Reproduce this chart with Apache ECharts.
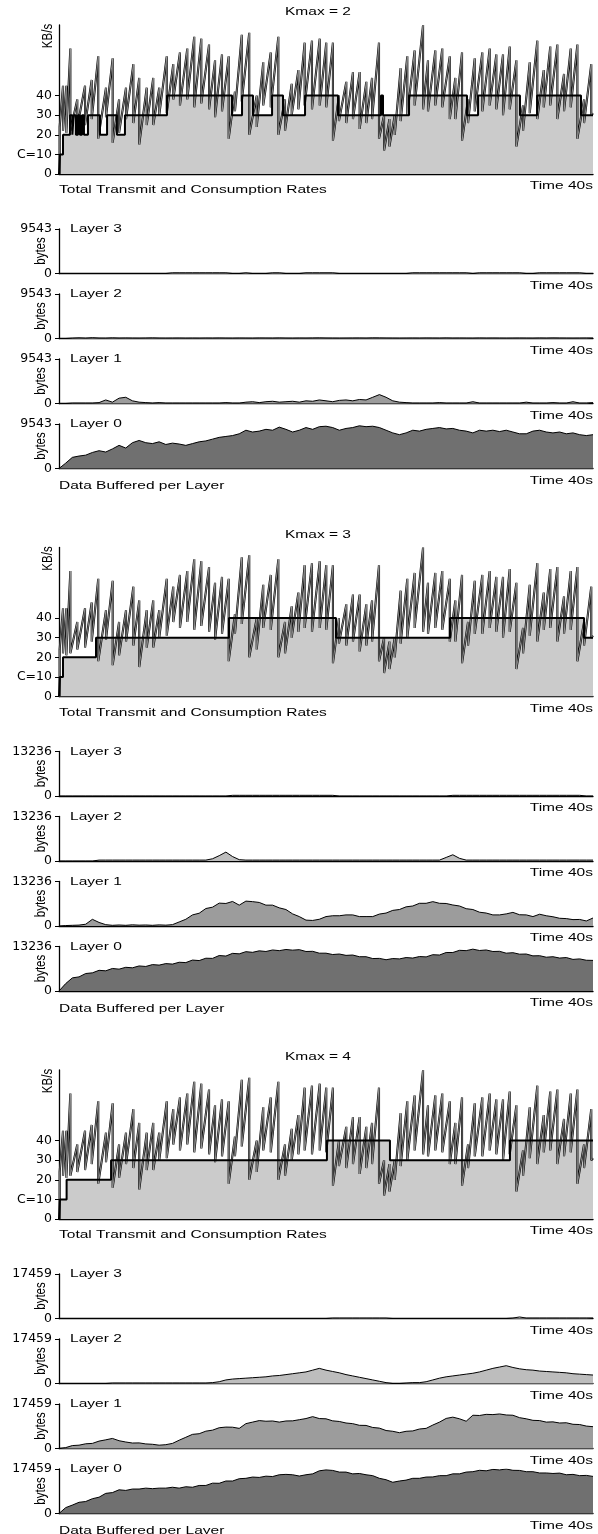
<!DOCTYPE html>
<html><head><meta charset="utf-8">
<script src="https://cdn.jsdelivr.net/npm/echarts@6/dist/echarts.min.js"></script>
<style>html,body{margin:0;padding:0;background:#fff}#c{width:598px;height:1534px}</style>
</head><body><div id="c"></div>
<script>
// ---------------- DATA ----------------
const timeMaxSec = 40;
const rateAxisMax = 76;               // KB/s at top of rate panel
const rateTickValues = [0, 10, 20, 30, 40];
const kmaxValues = [2, 3, 4];
const layerMaxBytes = [9543, 13236, 17459];
const layerNames = ['Layer 3', 'Layer 2', 'Layer 1', 'Layer 0'];

// Total transmit rate (sawtooth), shared by the three experiments
const transmitStart = [0.05, 24];
const dropTimes = [0.30,0.55,0.85,1.37,1.95,2.45,2.94,3.52,4.02,4.50,
  5.02,5.57,6.01,6.57,7.06,7.51,8.07,8.56,9.06,9.61,
  10.13,10.66,11.24,11.69,12.21,12.71,13.18,13.69,14.25,14.81,
  15.30,15.86,16.43,16.93,17.43,17.93,18.40,18.95,19.53,20.02,
  20.52,20.97,21.52,22.02,22.52,23.02,23.45,23.97,24.35,24.75,
  25.15,25.59,26.09,26.64,27.27,27.64,28.19,28.71,29.27,29.69,
  30.19,30.64,31.14,31.71,32.26,32.76,33.26,33.76,34.26,34.76,
  35.26,35.83,36.31,36.80,37.33,37.83,38.33,38.83,39.33,39.87];
const peakRates = [45,45,64,38,45,48,60,44,59,38,
  44,56,49,44,49,44,60,56,62,64,
  70,69,66,58,61,60,42,71,72,40,
  57,62,70,38,46,53,67,68,69,67,
  67,40,47,52,52,47,49,67,30,28,
  30,54,60,63,76,58,63,64,60,49,
  62,38,59,62,64,61,61,65,58,35,
  57,68,53,65,66,51,64,66,38,56];
const troughRates = [22,21,22,24,25,28,18,29,16,21,
  28,26,15,25,25,30,31,38,35,38,
  34,36,33,29,32,18,32,37,20,24,
  35,34,20,22,30,33,35,33,35,34,
  17,27,26,28,23,26,28,18,12,14,
  20,27,30,35,33,32,35,34,28,28,
  17,26,32,32,35,33,30,33,14,22,
  31,28,34,35,28,32,34,18,26,30];
const transmitEnd = [40, 31];

// Consumption rate steps (time of change, new level)
const stepTimesK2 = [0.07,0.3,0.82,1.0,1.1,1.27,1.42,1.57,1.72,1.87,2.17,3.07,3.6,4.34,4.94,8.09,12.96,13.71,14.53,15.96,16.78,18.43,20.9,24.12,24.27,26.22,30.56,31.39,34.53,35.81,39.1];
const stepLevelsK2 = [10,20,30,20,30,20,30,20,30,20,30,20,30,20,30,40,30,40,30,40,30,40,30,40,30,40,30,40,30,40,30];
const stepTimesK3 = [0.07,0.3,2.77,12.73,20.75,29.29,39.33];
const stepLevelsK3 = [10,20,30,40,30,40,30];
const stepTimesK4 = [0.07,0.57,3.9,20.07,24.79,33.78];
const stepLevelsK4 = [10,20,30,40,30,40];

// Data buffered per layer (bytes), sampled every 0.5 s from 0 to 40 s
const bufferSampleSec = 0.5;
const bufK2L3 = [0,0,0,0,0,0,0,0,0,0,0,0,0,0,0,0,0,150,150,150,150,150,150,150,150,150,0,0,150,0,0,0,150,150,0,0,0,150,150,150,150,150,0,0,0,0,0,0,0,0,0,0,0,150,150,150,150,150,150,150,150,150,0,150,150,150,150,150,150,150,0,0,150,150,150,150,150,150,150,0,0];
const bufK2L2 = [0,0,90,150,90,180,100,90,150,100,120,100,90,110,140,100,90,100,110,90,100,90,110,100,120,100,90,110,100,90,120,110,100,130,100,90,110,100,120,140,110,100,90,100,110,120,100,140,130,110,100,90,100,110,100,120,110,100,130,100,110,100,90,120,100,110,100,90,100,110,100,90,120,100,130,110,100,90,100,110,100];
const bufK2L1 = [0,0,95,95,95,95,191,763,286,1145,1336,573,286,191,95,191,95,95,95,95,95,95,95,95,95,191,95,95,286,382,191,382,477,286,382,477,286,573,477,763,573,382,668,763,573,859,763,1336,1909,1336,573,286,191,95,95,95,95,191,95,95,95,95,382,95,95,95,95,95,95,95,286,95,95,95,191,95,95,382,95,95,191];
const bufK2L0 = [0,1145,2386,2672,2863,3435,3817,3531,4199,4962,4390,5535,6012,5535,5344,5726,5153,5440,5249,4962,5344,5726,5917,6298,6680,6871,7062,7444,8207,7825,8016,8398,8207,8875,8398,7825,8207,8780,8398,8970,9066,8780,8207,8589,8780,9161,8970,9066,8780,8207,7634,7253,7634,8207,8016,8398,8589,8780,8493,8589,8207,8016,7634,8207,8016,8207,7921,8207,7825,7444,7444,8016,8207,7825,7634,7825,7444,7634,7253,7062,7253];

const bufK3L3 = [0,0,0,0,0,0,0,0,0,0,0,0,0,0,0,0,0,0,0,0,0,0,0,0,0,0,200,200,200,200,200,200,200,200,200,200,200,200,200,200,200,200,0,0,0,0,0,0,0,0,0,0,0,0,0,0,0,0,0,200,200,200,200,200,200,200,200,200,200,200,200,200,200,200,200,200,200,200,200,0,0];
const bufK3L2 = [0,0,0,0,0,0,265,265,265,265,265,265,265,265,265,265,265,265,265,265,265,265,265,662,1588,2647,1324,397,265,265,265,265,265,265,265,265,265,265,265,265,265,265,265,265,265,265,265,265,265,265,265,265,265,265,265,265,265,265,1059,1853,794,265,265,265,265,265,265,265,265,265,265,265,265,265,265,265,265,265,265,265,265];
const bufK3L1 = [0,132,200,265,529,1985,1059,397,200,300,200,350,250,300,200,330,250,400,1200,2000,3300,3800,5200,5600,6800,6700,7300,6200,7400,7250,7000,6200,6200,5400,4900,3600,2800,1750,1650,2000,2800,3050,3050,3300,3300,2800,2800,2800,3550,3850,4650,4900,5700,5950,6750,6750,7250,6750,6700,6250,5950,5150,4900,4100,3850,3300,3300,3600,4050,3350,3300,2800,3500,3050,2750,2300,2200,1900,1950,1500,2382];
const bufK3L0 = [0,2200,3900,4200,5200,5400,6150,6000,6700,6500,7050,6900,7450,7300,7850,7700,8150,8000,8550,8450,9200,9050,9750,9700,10550,10400,11200,11050,11700,11500,11950,11750,12200,12000,12350,12150,12300,11750,11800,11250,11250,10850,11000,10600,10700,10200,10200,9650,9700,9300,9650,9550,9950,9800,10250,10150,10800,10700,11450,11450,12100,12000,12450,12050,12200,11750,11800,11250,11400,10950,11000,10450,10500,10050,10200,9800,9950,9400,9550,9150,9100];

const bufK4L3 = [0,0,0,0,0,0,0,0,0,0,0,0,0,0,0,0,0,0,0,0,0,0,0,0,0,0,0,0,0,0,0,0,0,0,0,0,0,0,0,0,0,175,175,175,175,175,175,175,175,175,0,0,0,0,0,0,0,0,0,0,0,0,0,0,0,0,0,0,175,600,175,175,175,175,175,175,175,175,175,175,175];
const bufK4L2 = [0,0,0,0,0,0,0,0,175,175,175,175,175,175,175,175,175,175,175,175,175,175,175,349,698,1397,1746,1920,2095,2270,2444,2619,2968,3143,3492,3841,4190,4539,5238,5936,5238,4714,4190,3492,2968,2444,1920,1397,873,349,0,0,175,349,349,698,1397,2095,2619,2968,3317,3666,4016,4539,5238,5936,6460,6984,6285,5761,5412,5238,4889,4714,4539,4365,4190,3841,3666,3492,3317];
const bufK4L1 = [0,349,1150,1300,1850,2000,2900,3400,3950,3050,2550,2150,2200,1800,1650,1300,1500,2000,3250,4400,5550,5800,6800,7200,8150,8400,8350,7900,9750,10350,10950,10700,10800,10350,10800,10850,11300,11750,12500,11750,11650,10850,10600,10000,9750,9100,9050,8250,8000,7050,6750,6200,6750,6900,7650,7900,9200,10350,11800,12300,11650,10700,13050,12950,13400,13300,13550,13150,13050,12100,11650,11050,10950,10350,10450,10000,10100,9500,9400,8800,8555];
const bufK4L0 = [0,2300,3300,4400,4700,5800,6400,7900,8200,9300,9050,9600,9600,9950,9750,9950,9950,10300,9950,10500,10300,11000,11000,11900,11850,12750,12750,13650,13800,14300,14150,14650,14500,15200,15350,15200,14700,15200,15550,16750,17100,16900,16250,16250,15550,15700,15200,14850,13800,13250,12250,12750,13100,13800,13800,14300,14350,14850,14850,15550,15550,16250,16400,16950,16750,17300,17100,17450,16950,16900,16400,16400,15900,15900,15700,15850,15200,15350,14850,14950,14550];

// ---------------- BUILD ----------------
const stepSets = [[stepTimesK2, stepLevelsK2], [stepTimesK3, stepLevelsK3], [stepTimesK4, stepLevelsK4]];
const bufferSets = [
  [bufK2L3, bufK2L2, bufK2L1, bufK2L0],
  [bufK3L3, bufK3L2, bufK3L1, bufK3L0],
  [bufK4L3, bufK4L2, bufK4L1, bufK4L0]];
const layerFill = ['#d2d2d2', '#bdbdbd', '#9c9c9c', '#707070'];

function transmitPoints() {
  const pts = [[transmitStart[0], 0], [transmitStart[0], transmitStart[1]]];
  for (let i = 0; i < dropTimes.length; i++) {
    pts.push([dropTimes[i], peakRates[i]]);
    pts.push([dropTimes[i], troughRates[i]]);
  }
  pts.push(transmitEnd);
  return pts;
}
function stepPoints(times, levels) {
  const pts = [[0, 0]];
  let prev = 0;
  for (let i = 0; i < times.length; i++) {
    pts.push([times[i], prev]);
    pts.push([times[i], levels[i]]);
    prev = levels[i];
  }
  pts.push([timeMaxSec, prev]);
  return pts;
}
function bufferPoints(arr) { return arr.map((v, i) => [i * bufferSampleSec, v]); }

const FIG_H = 522.5, LEFT = 59, RIGHT = 5;
const FONT = 'Liberation Sans', FS = 11.5, SX = 1.35;
const grids = [], xAxes = [], yAxes = [], series = [], graphics = [];

function txt(x, y, text, align, vAlign) {
  graphics.push({
    type: 'text', x: x, y: y, scaleX: SX, silent: true,
    style: { text: text, x: 0, y: 0, fontSize: FS, fontFamily: FONT, fill: '#000',
      align: align, verticalAlign: vAlign, textAlign: align, textVerticalAlign: vAlign }
  });
}
function vtxt(x, y, text) {
  graphics.push({
    type: 'text', x: x, y: y, rotation: Math.PI / 2, scaleY: SX, silent: true,
    style: { text: text, x: 0, y: 0, fontSize: FS, fontFamily: FONT, fill: '#000',
      align: 'center', verticalAlign: 'middle', textAlign: 'center', textVerticalAlign: 'middle' }
  });
}
const axisLineStyle = { color: '#000', width: 1.3 };
const labelStyle = { color: '#000', fontFamily: 'DejaVu Sans', fontSize: 12.5, margin: 7 };

const tx = transmitPoints();
for (let f = 0; f < 3; f++) {
  const o = f * FIG_H;
  // rate panel
  let g = grids.length;
  grids.push({ left: LEFT, right: RIGHT, top: o + 25, height: 149, containLabel: false, outerBoundsMode: 'none' });
  xAxes.push({ gridIndex: g, type: 'value', min: 0, max: timeMaxSec,
    axisLine: { show: true, lineStyle: axisLineStyle }, axisTick: { show: false },
    axisLabel: { show: false }, splitLine: { show: false } });
  yAxes.push({ gridIndex: g, type: 'value', min: 0, max: rateAxisMax, interval: 10,
    axisLine: { show: true, lineStyle: axisLineStyle },
    axisTick: { show: true, length: 4, customValues: rateTickValues, lineStyle: { color: '#000' } },
    axisLabel: Object.assign({ customValues: rateTickValues, formatter: v => v === 10 ? 'C=10' : String(v) }, labelStyle),
    splitLine: { show: false } });
  const steps = stepPoints(stepSets[f][0], stepSets[f][1]);
  series.push({ type: 'line', xAxisIndex: g, yAxisIndex: g, data: steps, symbol: 'none',
    lineStyle: { width: 0, opacity: 0 }, areaStyle: { color: '#cbcbcb', opacity: 1 }, z: 1 });
  series.push({ type: 'line', xAxisIndex: g, yAxisIndex: g, data: tx, symbol: 'none',
    lineStyle: { color: '#000', width: 2.1 }, z: 2 });
  series.push({ type: 'line', xAxisIndex: g, yAxisIndex: g, data: tx, symbol: 'none',
    lineStyle: { color: '#a8a8a8', width: 0.8 }, z: 3 });
  series.push({ type: 'line', xAxisIndex: g, yAxisIndex: g, data: steps, symbol: 'none',
    lineStyle: { color: '#000', width: 2 }, z: 4 });

  txt(318, o + 12, 'Kmax = ' + kmaxValues[f], 'center', 'middle');
  vtxt(48, o + 36, 'KB/s');
  txt(LEFT, o + 190, 'Total Transmit and Consumption Rates', 'left', 'middle');
  txt(593, o + 186, 'Time 40s', 'right', 'middle');

  // layer panels
  const M = layerMaxBytes[f];
  for (let i = 0; i < 4; i++) {
    const top = o + 229 + 65 * i;
    g = grids.length;
    grids.push({ left: LEFT, right: RIGHT, top: top, height: 44.5, containLabel: false, outerBoundsMode: 'none' });
    xAxes.push({ gridIndex: g, type: 'value', min: 0, max: timeMaxSec,
      axisLine: { show: true, lineStyle: axisLineStyle }, axisTick: { show: false },
      axisLabel: { show: false }, splitLine: { show: false } });
    yAxes.push({ gridIndex: g, type: 'value', min: 0, max: M, interval: M,
      axisLine: { show: true, lineStyle: axisLineStyle },
      axisTick: { show: true, length: 4, customValues: [0, M], lineStyle: { color: '#000' } },
      axisLabel: Object.assign({ customValues: [0, M], formatter: v => String(v) }, labelStyle),
      splitLine: { show: false } });
    series.push({ type: 'line', xAxisIndex: g, yAxisIndex: g, data: bufferPoints(bufferSets[f][i]),
      symbol: 'none', lineStyle: { color: '#000', width: 1 },
      areaStyle: { color: layerFill[i], opacity: 1 }, z: 2 });
    txt(70, top, layerNames[i], 'left', 'middle');
    vtxt(41, top + 22, 'bytes');
    if (i < 3) txt(593, top + 56.5, 'Time 40s', 'right', 'middle');
  }
  txt(593, o + 480.5, 'Time 40s', 'right', 'middle');
  txt(LEFT, o + 486, 'Data Buffered per Layer', 'left', 'middle');
}

const chart = echarts.init(document.getElementById('c'), null, { renderer: 'canvas' });
chart.setOption({
  animation: false, backgroundColor: '#fff',
  grid: grids, xAxis: xAxes, yAxis: yAxes, series: series, graphic: graphics
});
</script></body></html>
